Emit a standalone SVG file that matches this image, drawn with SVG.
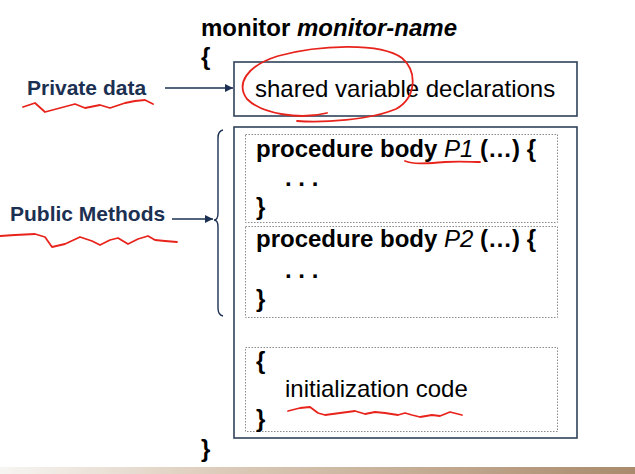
<svg xmlns="http://www.w3.org/2000/svg" width="635" height="474" viewBox="0 0 635 474">
  <defs>
    <marker id="arrowhead" viewBox="0 0 10 10" refX="10" refY="5" markerWidth="8" markerHeight="8" markerUnits="userSpaceOnUse" orient="auto">
      <path d="M0,0 L10,5 L0,10 z" fill="#1c3052"/>
    </marker>
    <linearGradient id="floor" x1="0" y1="0" x2="1" y2="0">
      <stop offset="0" stop-color="#f7f5f2"/>
      <stop offset="0.35" stop-color="#dccbb9"/>
      <stop offset="1" stop-color="#a98a6c"/>
    </linearGradient>
    <style>
      .code { font-family: "Liberation Sans", Arial, sans-serif; font-size: 24px; fill: #000; }
      .b { font-weight: bold; }
      .i { font-style: italic; }
      .label { font-family: "Liberation Sans", Arial, sans-serif; font-size: 21px; font-weight: bold; fill: #1c3052; }
      .frame { fill: #fff; stroke: #2f4159; stroke-width: 1.6; }
      .section { fill: none; stroke: #8a8a8a; stroke-width: 1; stroke-dasharray: 1.5 1.5; }
      .conn { fill: none; stroke: #1c3052; stroke-width: 1.4; }
      .ink { fill: none; stroke: #e8231c; stroke-width: 1.8; stroke-linecap: round; stroke-linejoin: round; }
    </style>
  </defs>

  <rect width="635" height="474" fill="#fff"/>
  <rect x="0" y="467" width="635" height="7" fill="url(#floor)"/>

  <!-- monitor header and closing brace -->
  <g id="monitor-header">
    <text class="code b" x="201" y="36">monitor <tspan class="i">monitor-name</tspan></text>
    <text class="code b" x="201" y="65">{</text>
    <text class="code b" x="201" y="457">}</text>
  </g>

  <!-- private data section -->
  <g id="shared-vars">
    <rect class="frame" x="234" y="62" width="343" height="54"/>
    <text class="code" x="255" y="97">shared variable declarations</text>
  </g>

  <!-- public methods container -->
  <g id="methods">
    <rect class="frame" x="234" y="127" width="343" height="311"/>
  </g>

  <g id="proc-p1">
    <rect class="section" x="245.5" y="134.5" width="312" height="88"/>
    <text class="code b" x="256" y="157">procedure body <tspan class="i" font-weight="normal">P1</tspan> (…) {</text>
    <text class="code b" x="285" y="186">. . .</text>
    <text class="code b" x="256" y="215">}</text>
  </g>

  <g id="proc-p2">
    <rect class="section" x="245.5" y="226.5" width="312" height="91"/>
    <text class="code b" x="256" y="247">procedure body <tspan class="i" font-weight="normal">P2</tspan> (…) {</text>
    <text class="code b" x="285" y="278">. . .</text>
    <text class="code b" x="256" y="307">}</text>
  </g>

  <g id="init-code">
    <rect class="section" x="245.5" y="347.5" width="312" height="84"/>
    <text class="code b" x="256" y="369">{</text>
    <text class="code" x="285" y="397">initialization code</text>
    <text class="code b" x="256" y="427">}</text>
  </g>

  <!-- side labels -->
  <g id="label-private">
    <text class="label" x="27" y="95">Private data</text>
  </g>
  <g id="label-public">
    <text class="label" x="10" y="221">Public Methods</text>
  </g>

  <!-- connectors -->
  <g id="connectors">
    <line class="conn" x1="165" y1="88" x2="233" y2="88" marker-end="url(#arrowhead)"/>
    <line class="conn" x1="172" y1="219" x2="213" y2="219" marker-end="url(#arrowhead)"/>
    <path class="conn" d="M223,130 Q218,131 218,138 L218,213 Q218,220 214,220 Q218,220 218,227 L218,308 Q218,315 223,316"/>
  </g>

  <!-- red pen annotations -->
  <g id="annotations">
    <path class="ink" d="M327,113 C300,120 262,114 247,99 C236,84 246,66 278,56 C318,45 380,42 402,58 C418,72 416,98 396,109 C370,120 322,123 297,121"/>
    <path class="ink" d="M23,107 L35,103 L45,112 L60,108 L75,104 L85,108 L100,105 L110,108 L125,103 L135,101 L145,100 L153,104"/>
    <path class="ink" d="M0,236 L15,235 L35,234 L45,237 L52,247 L65,244 L80,237 L92,241 L100,245 L110,240 L118,238 L128,244 L138,239 L148,236 L155,240 L165,241 L177,242"/>
    <path class="ink" d="M405,161 C415,165 430,163 445,162 C460,161 472,162 480,162"/>
    <path class="ink" d="M288,411 L300,408 L310,407 L318,413 L325,415 L340,413 L355,411 L365,414 L375,412 L385,413 L398,415 L405,413 L412,415 L420,417 L432,415 L440,416 L450,412 L462,415"/>
  </g>
</svg>
